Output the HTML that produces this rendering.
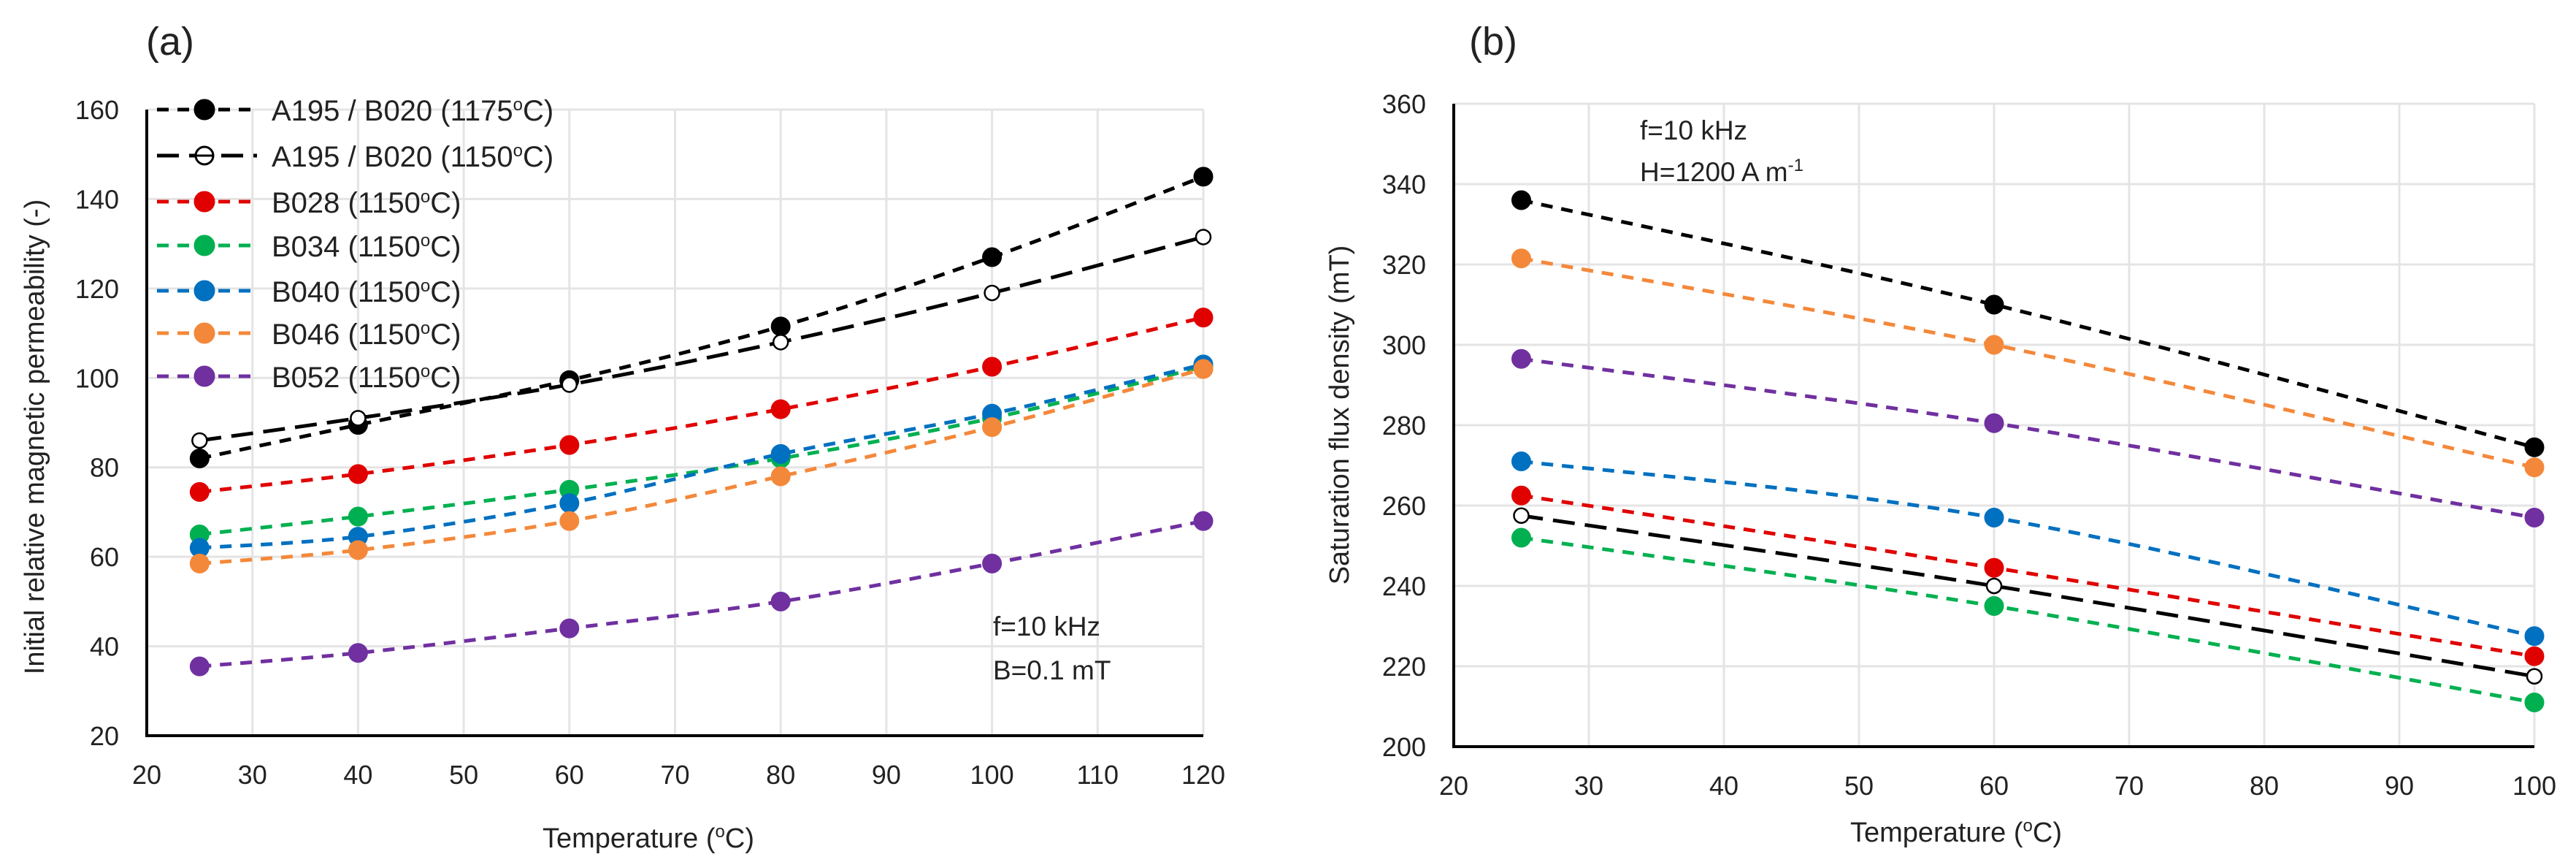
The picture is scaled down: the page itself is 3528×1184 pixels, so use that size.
<!DOCTYPE html>
<html><head><meta charset="utf-8"><style>
html,body{margin:0;padding:0;background:#fff;}
svg text{font-family:"Liberation Sans","DejaVu Sans",sans-serif;fill:#222;}
</style></head><body>
<svg id="fig" width="3528" height="1179" viewBox="0 0 3528 1179" xmlns="http://www.w3.org/2000/svg">
<g id="pa"></g>
<g id="pb"></g>
</svg>
<script>
// Panel (a) data
const xA = [25, 40, 60, 80, 100, 120];
const a_A195_1175 = [82, 89.5, 99.5, 111.5, 127, 145];
const a_A195_1150 = [86, 91, 98.5, 108, 119, 131.5];
const a_B028 = [74.5, 78.5, 85, 93, 102.5, 113.5];
const a_B034 = [65, 69, 75, 82, 91, 102.5];
const a_B040 = [62, 64.5, 72, 83, 92, 103];
const a_B046 = [58.5, 61.5, 68, 78, 89, 102];
const a_B052 = [35.5, 38.5, 44, 50, 58.5, 68];
const xTicksA = [20, 30, 40, 50, 60, 70, 80, 90, 100, 110, 120];
const yTicksA = [20, 40, 60, 80, 100, 120, 140, 160];
// Panel (b) data
const xB = [25, 60, 100];
const b_A195_1175 = [336, 310, 274.5];
const b_A195_1150 = [257.5, 240, 217.5];
const b_B028 = [262.5, 244.5, 222.5];
const b_B034 = [252, 235, 211];
const b_B040 = [271, 257, 227.5];
const b_B046 = [321.5, 300, 269.5];
const b_B052 = [296.5, 280.5, 257];
const xTicksB = [20, 30, 40, 50, 60, 70, 80, 90, 100];
const yTicksB = [200, 220, 240, 260, 280, 300, 320, 340, 360];
const legendLabels = ["A195 / B020  (1175", "A195 / B020  (1150", "B028 (1150", "B034 (1150", "B040 (1150", "B046 (1150", "B052 (1150"];

const NS = "http://www.w3.org/2000/svg";
const styles = [
 {c:"#000", d:"16 12", open:false, key:"a195-1175"},
 {c:"#000", d:"30 14", open:true, key:"a195-1150"},
 {c:"#e00000", d:"16 12", open:false, key:"b028"},
 {c:"#00b050", d:"16 12", open:false, key:"b034"},
 {c:"#0070c0", d:"16 12", open:false, key:"b040"},
 {c:"#f4883a", d:"16 12", open:false, key:"b046"},
 {c:"#7030a0", d:"16 12", open:false, key:"b052"}
];
function el(parent, tag, attrs){const e=document.createElementNS(NS,tag);for(const k in attrs)e.setAttribute(k,attrs[k]);parent.appendChild(e);return e;}
function smooth(pts){
 let d="M"+pts[0][0]+","+pts[0][1];
 for(let i=0;i<pts.length-1;i++){
  const p0=pts[Math.max(0,i-1)],p1=pts[i],p2=pts[i+1],p3=pts[Math.min(pts.length-1,i+2)];
  const t=0.5/3;
  const c1=[p1[0]+(p2[0]-p0[0])*t,p1[1]+(p2[1]-p0[1])*t];
  const c2=[p2[0]-(p3[0]-p1[0])*t,p2[1]-(p3[1]-p1[1])*t];
  d+=" C"+c1[0]+","+c1[1]+" "+c2[0]+","+c2[1]+" "+p2[0]+","+p2[1];
 }
 return d;
}
function panel(g, cfg){
 const X=v=>cfg.x0+(v-cfg.xmin)/(cfg.xmax-cfg.xmin)*(cfg.x1-cfg.x0);
 const Y=v=>cfg.y0-(v-cfg.ymin)/(cfg.ymax-cfg.ymin)*(cfg.y0-cfg.y1);
 cfg.xt.forEach(v=>{
  const l=el(g,"line",{x1:X(v),x2:X(v),y1:cfg.y1,y2:cfg.y0,stroke:"#e4e4e4","stroke-width":3});
  
  
  const t=el(g,"text",{x:X(v),y:cfg.y0+66,"text-anchor":"middle","font-size":36});
  t.textContent=v;
  
  
 });
 cfg.yt.forEach(v=>{
  const l=el(g,"line",{x1:cfg.x0,x2:cfg.x1,y1:Y(v),y2:Y(v),stroke:"#e4e4e4","stroke-width":3});
  
  
  const t=el(g,"text",{x:cfg.x0-38,y:Y(v)+13,"text-anchor":"end","font-size":36});
  t.textContent=v;
  
  
 });
 const ax=el(g,"path",{d:`M${cfg.x0},${cfg.y1} L${cfg.x0},${cfg.y0} L${cfg.x1},${cfg.y0}`,fill:"none",stroke:"#000","stroke-width":4});
 
 
 cfg.series.forEach((ys,i)=>{
  const s=styles[i];
  const pts=cfg.xs.map((x,j)=>[X(x),Y(ys[j])]);
  const p=el(g,"path",{d:smooth(pts),fill:"none",stroke:s.c,"stroke-width":5,"stroke-dasharray":s.d});
  
  
  pts.forEach(pt=>{
   const m=el(g,"circle",{cx:pt[0],cy:pt[1],r:s.open?10:13,fill:s.open?"#fff":s.c,stroke:s.c,"stroke-width":s.open?2.5:1});
   
   
  });
 });
 const xt=el(g,"text",{x:cfg.xtx,y:cfg.xty,"text-anchor":"middle","font-size":38});
 xt.innerHTML='Temperature (<tspan font-size="24" dy="-14">o</tspan><tspan dy="14">C)</tspan>';
 
 
 const yt=el(g,"text",{x:0,y:0,"text-anchor":"middle","font-size":38,transform:`translate(${cfg.ytx},${cfg.yty}) rotate(-90)`});
 yt.textContent=cfg.ytitle;
 
 
 const pl=el(g,"text",{x:cfg.plx,y:75,"font-size":54});
 pl.textContent=cfg.plabel;
 
 
}
const ga=document.getElementById("pa");
panel(ga,{x0:201,x1:1648,y0:1007,y1:150,xmin:20,xmax:120,ymin:20,ymax:160,xt:xTicksA,yt:yTicksA,xs:xA,
 series:[a_A195_1175,a_A195_1150,a_B028,a_B034,a_B040,a_B046,a_B052],
 xtx:888,xty:1160,ytx:60,yty:598,ytitle:"Initial relative magnetic permeability (-)",plx:200,plabel:"(a)"});
const gb=document.getElementById("pb");
panel(gb,{x0:1991,x1:3471,y0:1022,y1:142,xmin:20,xmax:100,ymin:200,ymax:360,xt:xTicksB,yt:yTicksB,xs:xB,
 series:[b_A195_1175,b_A195_1150,b_B028,b_B034,b_B040,b_B046,b_B052],
 xtx:2679,xty:1152,ytx:1847,yty:568,ytitle:"Saturation flux density (mT)",plx:2012,plabel:"(b)"});
// Legend in panel a
const lg=el(ga,"g",{});


const rowY=[150,213,276,336,398,456,515];
legendLabels.forEach((lab,i)=>{
 const s=styles[i];const y=rowY[i];
 const e=el(lg,"g",{});
 
 
 el(e,"line",{x1:215,x2:352,y1:y,y2:y,stroke:s.c,"stroke-width":5,"stroke-dasharray":s.d});
 el(e,"circle",{cx:280,cy:y,r:s.open?12:14,fill:s.open?"#fff":s.c,stroke:s.c,"stroke-width":s.open?3:1});
 if(s.open) el(e,"line",{x1:268,x2:292,y1:y,y2:y,stroke:"#000","stroke-width":3});
 const t=el(e,"text",{x:372,y:y+15,"font-size":40});
 t.innerHTML=lab+'<tspan font-size="24" dy="-14">o</tspan><tspan dy="14">C)</tspan>';
});
// Annotations
const an1=el(ga,"text",{x:1360,y:870,"font-size":37});an1.textContent="f=10 kHz";


const an2=el(ga,"text",{x:1360,y:930,"font-size":37});an2.textContent="B=0.1 mT";


const bn1=el(gb,"text",{x:2246,y:191,"font-size":37});bn1.textContent="f=10 kHz";


const bn2=el(gb,"text",{x:2246,y:248,"font-size":37});bn2.innerHTML='H=1200 A m<tspan font-size="24" dy="-14">-1</tspan>';


</script>
</body></html>
